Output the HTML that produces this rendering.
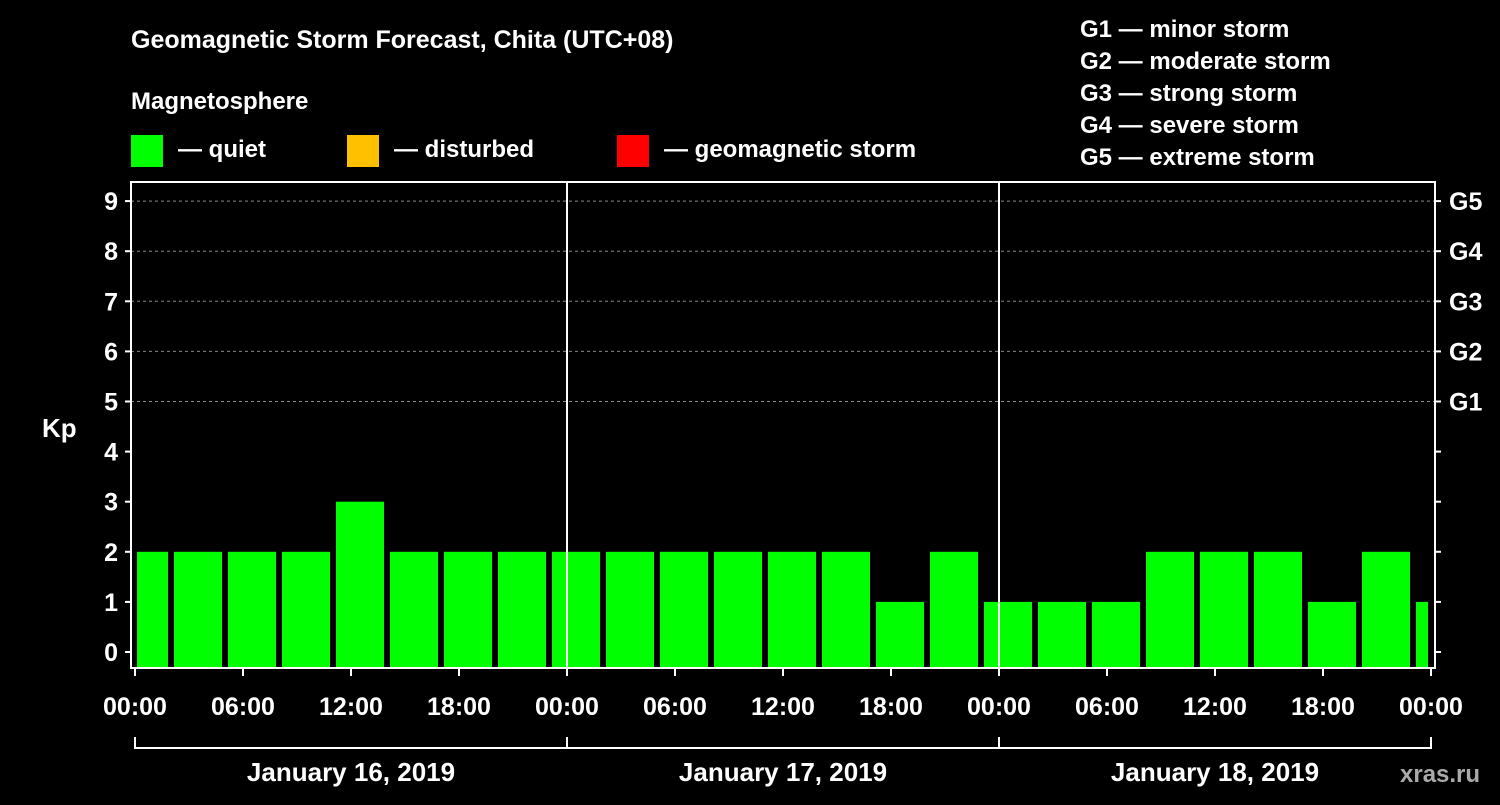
<!DOCTYPE html>
<html><head><meta charset="utf-8"><style>
body{margin:0;background:#000;width:1500px;height:800px;overflow:hidden}
svg text{font-family:"Liberation Sans",Arial,sans-serif;font-weight:bold;fill:#fff}
</style></head><body>
<svg id="c" width="1500" height="800" xmlns="http://www.w3.org/2000/svg">
<text x="131" y="48" font-size="25">Geomagnetic Storm Forecast, Chita (UTC+08)</text>
<text x="131" y="109" font-size="24">Magnetosphere</text>
<g>
<rect x="131" y="135" width="32" height="32" fill="#00ff00"/>
<text x="178" y="157" font-size="24">— quiet</text>
<rect x="347" y="135" width="32" height="32" fill="#ffc000"/>
<text x="394" y="157" font-size="24">— disturbed</text>
<rect x="617" y="135" width="32" height="32" fill="#ff0000"/>
<text x="664" y="157" font-size="24">— geomagnetic storm</text>
</g>
<g font-size="24">
<text x="1080" y="37">G1 — minor storm</text>
<text x="1080" y="69">G2 — moderate storm</text>
<text x="1080" y="101">G3 — strong storm</text>
<text x="1080" y="133">G4 — severe storm</text>
<text x="1080" y="165">G5 — extreme storm</text>
</g>
<text x="42" y="437" font-size="26">Kp</text>
<text x="1400" y="782" font-size="24" fill="#aaa" style="fill:#aaaaaa">xras.ru</text>
<g id="grid"></g><g id="bars"></g><g id="axes"></g>
</svg>
<script>
const kpValues=[2,2,2,2,3,2,2,2, 2,2,2,2,2,2,1,2, 1,1,1,2,2,2,1,2, 1];
const yTicks=[0,1,2,3,4,5,6,7,8,9];
const gLabels=["G1","G2","G3","G4","G5"];
const gLevels=[5,6,7,8,9];
const xTickLabels=["00:00","06:00","12:00","18:00","00:00","06:00","12:00","18:00","00:00","06:00","12:00","18:00","00:00"];
const dayLabels=["January 16, 2019","January 17, 2019","January 18, 2019"];
const NS="http://www.w3.org/2000/svg";
const L=131,R=1435,T=182,B=668,x0=135,pxH=18;
const y=v=>652-v*50.1;
const xh=h=>x0+h*pxH;
function mk(tag,attrs,parent,txt){const e=document.createElementNS(NS,tag);for(const k in attrs)e.setAttribute(k,attrs[k]);if(txt!==undefined)e.textContent=txt;parent.appendChild(e);return e;}
const grid=document.getElementById('grid'),bars=document.getElementById('bars'),axes=document.getElementById('axes');
gLevels.forEach(v=>{const l=mk('line',{x1:L,x2:R,y1:y(v),y2:y(v),stroke:'#888','stroke-dasharray':'3,3','stroke-width':1},grid);

});
kpValues.forEach((v,i)=>{let a=xh(i*3)-15,b=a+48;a=Math.max(a,137);b=Math.min(b,1428);
const r=mk('rect',{x:a,y:y(v),width:b-a,height:B-y(v),fill:'#00ff00'},bars);

});
const frame=mk('rect',{x:L,y:T,width:R-L,height:B-T,fill:'none',stroke:'#fff','stroke-width':2},axes);


[1,2].forEach(d=>{const l=mk('line',{x1:xh(d*24),x2:xh(d*24),y1:T,y2:B,stroke:'#fff','stroke-width':2},axes);

});
yTicks.forEach(v=>{mk('line',{x1:L-6,x2:L,y1:y(v),y2:y(v),stroke:'#fff','stroke-width':2},axes);
mk('line',{x1:R,x2:R+6,y1:y(v),y2:y(v),stroke:'#fff','stroke-width':2},axes);
const t=mk('text',{x:L-13,y:y(v)+9,'font-size':25,'text-anchor':'end'},axes,String(v));

});
gLabels.forEach((g,i)=>{const t=mk('text',{x:1449,y:y(gLevels[i])+9,'font-size':25},axes,g);

});
xTickLabels.forEach((s,i)=>{const x=xh(i*6);mk('line',{x1:x,x2:x,y1:B,y2:B+8,stroke:'#fff','stroke-width':2},axes);
const t=mk('text',{x:x,y:715,'font-size':25,'text-anchor':'middle'},axes,s);

});
mk('line',{x1:xh(0),x2:xh(72),y1:748,y2:748,stroke:'#fff','stroke-width':2},axes);
[0,1,2,3].forEach(d=>mk('line',{x1:xh(d*24),x2:xh(d*24),y1:737,y2:749,stroke:'#fff','stroke-width':2},axes));
dayLabels.forEach((s,d)=>{const t=mk('text',{x:xh(d*24+12),y:781,'font-size':26,'text-anchor':'middle'},axes,s);

});
</script>
</body></html>
